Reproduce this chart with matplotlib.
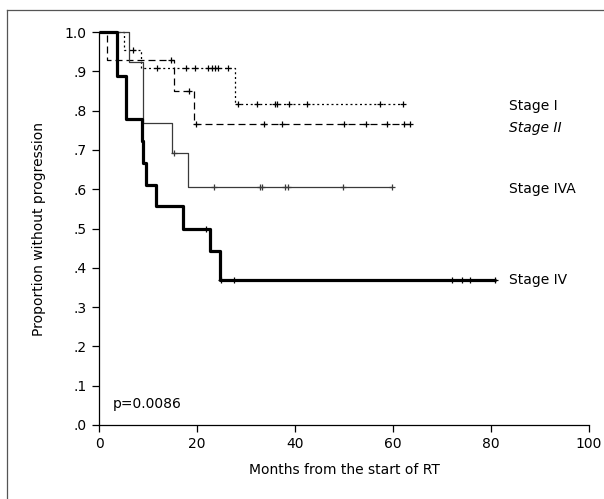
import matplotlib
matplotlib.use("Agg")
import matplotlib.pyplot as plt
import numpy as np
from matplotlib.lines import Line2D

plt.rcParams['font.family'] = ['DejaVu Sans']

# ---- data ----
stage1_t = [0, 5.0, 8.5, 27.8, 62.1]
stage1_s = [1.0, 0.955, 0.909, 0.818, 0.818]
stage1_c = [7.0, 11.8, 17.8, 19.6, 22.3, 23.0, 23.7, 24.3, 26.3, 28.3,
            32.2, 35.9, 36.3, 38.8, 42.4, 57.3, 62.1]

stage2_t = [0, 1.7, 15.3, 19.4, 64.1]
stage2_s = [1.0, 0.929, 0.851, 0.766, 0.766]
stage2_c = [14.7, 18.4, 19.8, 33.7, 37.4, 50.1, 54.5, 58.7, 62.3, 63.5]

stage4a_t = [0, 6.2, 8.9, 14.8, 18.2, 59.7]
stage4a_s = [1.0, 0.923, 0.769, 0.692, 0.605, 0.605]
stage4a_c = [15.3, 23.5, 32.9, 33.2, 38.0, 38.6, 49.8, 59.7]

stage4_t = [0, 3.6, 5.5, 8.7, 9.0, 9.5, 11.6, 17.2, 22.7, 24.7, 81.0]
stage4_s = [1.0, 0.889, 0.778, 0.722, 0.667, 0.611, 0.556, 0.500, 0.444, 0.370, 0.370]
stage4_c = [21.8, 24.9, 27.6, 72.0, 74.0, 75.7, 80.8]

labels = ["Stage I", "Stage II", "Stage IVA", "Stage IV"]
label_y = [0.812, 0.755, 0.60, 0.368]
x_ticks = [0, 20, 40, 60, 80, 100]
y_ticks = [0.0, 0.1, 0.2, 0.3, 0.4, 0.5, 0.6, 0.7, 0.8, 0.9, 1.0]
y_ticklabels = [".0", ".1", ".2", ".3", ".4", ".5", ".6", ".7", ".8", ".9", "1.0"]
p_text = "p=0.0086"

fig = plt.figure(figsize=(6.04, 4.99), dpi=100)
ax = fig.add_axes([99/604, 1-425/499, 490/604, (425-32)/499])

def step_val(t, s, x):
    idx = np.searchsorted(np.asarray(t), x, side='right') - 1
    return np.asarray(s)[idx]

styles = [
    dict(color='black', lw=0.9, ls=(0, (1.6, 2.2))),
    dict(color='black', lw=0.9, ls=(0, (5.6, 3.2))),
    dict(color='#3a3a3a', lw=0.9, ls='-'),
    dict(color='black', lw=2.3, ls='-'),
]
series = [(stage1_t, stage1_s, stage1_c), (stage2_t, stage2_s, stage2_c),
          (stage4a_t, stage4a_s, stage4a_c), (stage4_t, stage4_s, stage4_c)]

for (t, s, c), st in zip(series, styles):
    ax.step(t, s, where='post', color=st['color'], lw=st['lw'], ls=st['ls'],
            clip_on=False, solid_capstyle='butt')
    cy = [step_val(t, s, x) for x in c]
    ax.plot(c, cy, ls='none', marker='+', ms=5, mew=0.9, color=st['color'],
            clip_on=False)

for i, (lab, ly) in enumerate(zip(labels, label_y)):
    ax.text(83.7, ly, lab, fontsize=10, va='center', ha='left',
            style='italic' if i == 1 else 'normal')

ax.text(2.9, 0.053, p_text, fontsize=10, va='center', ha='left')

ax.set_xlim(0, 100)
ax.set_ylim(0, 1.0)
ax.set_xticks(x_ticks)
ax.set_xticklabels([str(v) for v in x_ticks])
ax.set_yticks(y_ticks)
ax.set_yticklabels(y_ticklabels)
ax.tick_params(direction='out', length=5, width=0.9, labelsize=10, pad=4)
for sp in ['top', 'right']:
    ax.spines[sp].set_visible(False)
for sp in ['left', 'bottom']:
    ax.spines[sp].set_linewidth(0.9)

ax.set_xlabel("Months from the start of RT", fontsize=10, labelpad=8)
ax.set_ylabel("Proportion without progression", fontsize=10, labelpad=13)

# outer frame lines (left and top)
fig.add_artist(Line2D([7.5/604, 7.5/604], [0, 1-10/499], color='#555555', lw=0.9))
fig.add_artist(Line2D([7.5/604, 1], [1-10/499, 1-10/499], color='#555555', lw=0.9))

fig.savefig("out.png", dpi=100)
